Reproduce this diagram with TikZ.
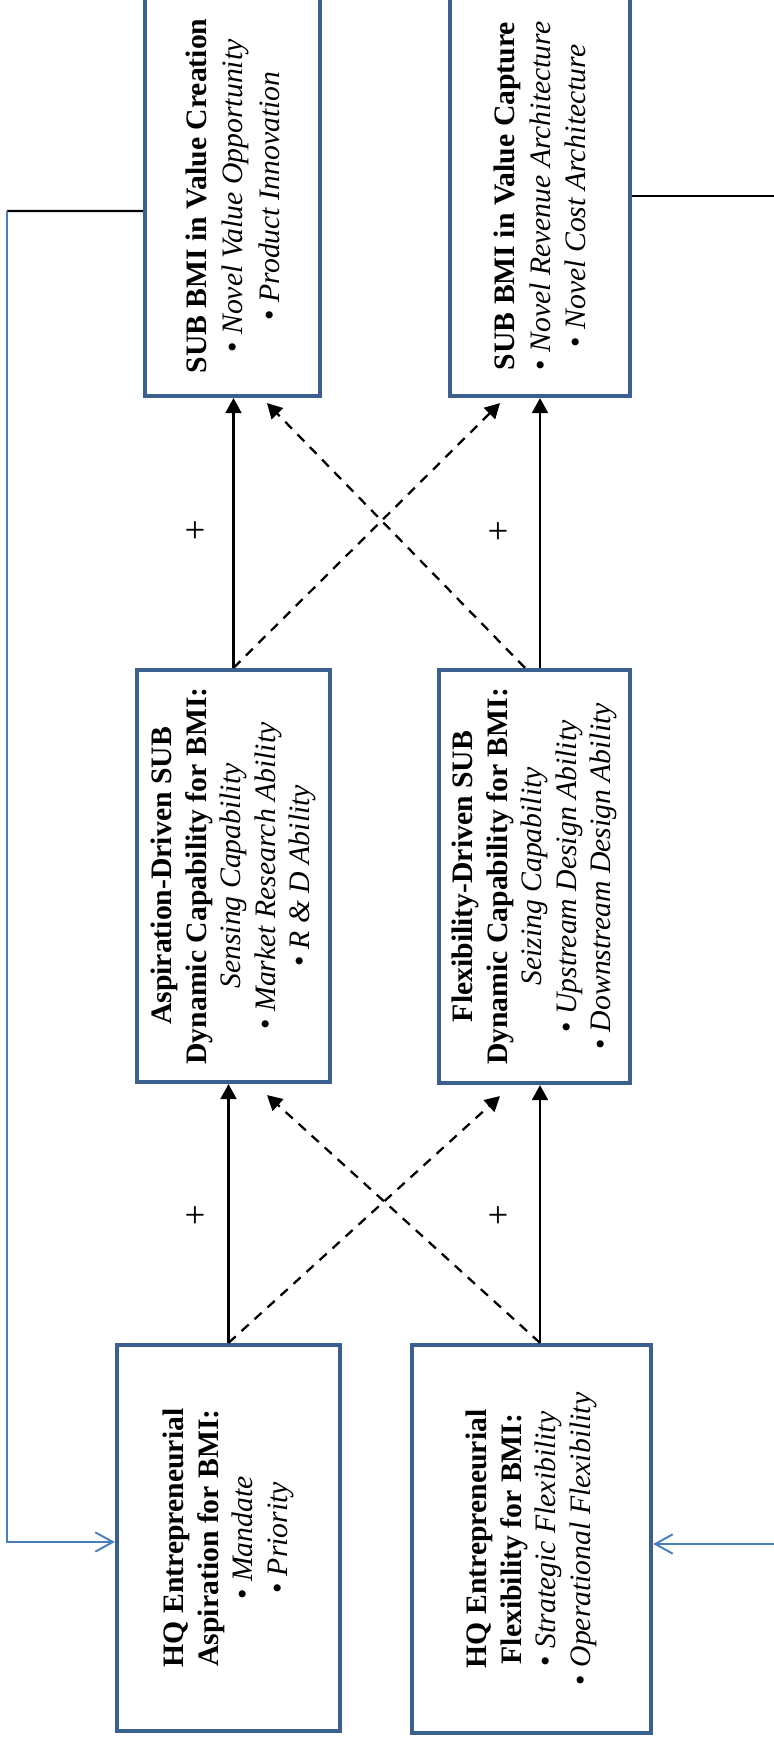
\documentclass[tikz,border=0pt]{standalone}
\usepackage{fontspec}
\setmainfont{Liberation Serif}
\usetikzlibrary{arrows.meta,calc}
\definecolor{boxblue}{RGB}{59,95,143}
\definecolor{loopblue}{RGB}{74,126,187}

\begin{document}
\begin{tikzpicture}[
  box/.style={draw=boxblue, line width=2.4pt, fill=white, inner sep=0pt},
  boxtext/.style={rotate=90, align=center, font=\fontsize{16.9}{19.6}\selectfont},
  plus/.style={font=\fontsize{21}{24}\selectfont},
  link/.style={line width=1.3pt, -{Triangle[length=8.5pt,width=9pt]}},
  maybe/.style={link, dash pattern=on 5.5pt off 4.5pt},
  loopline/.style={draw=loopblue, line width=1.1pt, -{Straight Barb[length=10pt,width=11pt]}}
]
  \useasboundingbox (0,0) rectangle (15.48,34.88);

  %% SUB BMI (top row)
  \node[box, minimum width=3.5cm, minimum height=8cm] (vc) at (4.65,30.96) {};
  \node[boxtext, font=\fontsize{16.9}{20.8}\selectfont] (vctext) at (vc)
    {\textbf{SUB BMI in Value Creation}\\ \textbullet\ \textit{Novel Value Opportunity}\\ \textbullet\ \textit{Product Innovation}};

  \node[box, minimum width=3.6cm, minimum height=8cm] (vcap) at (10.8,30.96) {};
  \node[boxtext, font=\fontsize{16.9}{20.2}\selectfont] (vcaptext) at (vcap)
    {\textbf{SUB BMI in Value Capture}\\ \textbullet\ \textit{Novel Revenue Architecture}\\ \textbullet\ \textit{Novel Cost Architecture}};

  %% SUB dynamic capabilities (middle row)
  \node[box, minimum width=3.86cm, minimum height=8.24cm] (ad) at (4.67,17.36) {};
  \node[boxtext] (adtext) at (ad)
    {\textbf{Aspiration-Driven SUB}\\ \textbf{Dynamic Capability for BMI:}\\ \textit{Sensing Capability}\\ \textbullet\ \textit{Market Research Ability}\\ \textbullet\ \textit{R \& D Ability}};

  \node[box, minimum width=3.82cm, minimum height=8.26cm] (fd) at (10.69,17.35) {};
  \node[boxtext] (fdtext) at (fd)
    {\textbf{Flexibility-Driven SUB}\\ \textbf{Dynamic Capability for BMI:}\\ \textit{Seizing Capability}\\ \textbullet\ \textit{Upstream Design Ability}\\ \textbullet\ \textit{Downstream Design Ability}};

  %% HQ (bottom row)
  \node[box, minimum width=4.46cm, minimum height=7.72cm] (hqa) at (4.57,4.12) {};
  \node[boxtext] (hqatext) at (hqa)
    {\textbf{HQ Entrepreneurial}\\ \textbf{Aspiration for BMI:}\\ \textbullet\ \textit{Mandate}\\ \textbullet\ \textit{Priority}};

  \node[box, minimum width=4.78cm, minimum height=7.76cm] (hqf) at (10.63,4.10) {};
  \node[boxtext] (hqftext) at (hqf)
    {\textbf{HQ Entrepreneurial}\\ \textbf{Flexibility for BMI:}\\ \textbullet\ \textit{Strategic Flexibility}\\ \textbullet\ \textit{Operational Flexibility}};

  %% capabilities -> BMI
  \draw[link] (ad.north) -- (ad.north |- vc.south);
  \draw[link] (vcap.south |- fd.north) -- (vcap.south);
  \draw[maybe] (ad.north) -- ([xshift=-0.8cm,yshift=-0.1cm]vcap.south);
  \draw[maybe] ([xshift=-0.19cm]fd.north) -- ([xshift=0.69cm,yshift=-0.1cm]vc.south);
  \node[plus] (p1) at (3.9,24.24) {+};
  \node[plus] (p2) at (9.96,24.22) {+};

  %% HQ -> capabilities
  \draw[link] (hqa.north) -- (hqa.north |- ad.south);
  \draw[link] (vcap.south |- hqf.north) -- (vcap.south |- fd.south);
  \draw[maybe] (hqa.north) -- ([xshift=-0.69cm,yshift=-0.22cm]fd.south);
  \draw[maybe] (vcap.south |- hqf.north) -- ([xshift=0.67cm,yshift=-0.22cm]ad.south);
  \node[plus] (p3) at (3.9,10.54) {+};
  \node[plus] (p4) at (9.96,10.54) {+};

  %% feedback loops
  \coordinate (fbl) at (0.14,30.66);
  \draw[line width=1.2pt] ([yshift=-0.3cm]vc.west) -- (fbl);
  \draw[loopline] (fbl) |- ([yshift=-0.08cm]hqa.west);

  \coordinate (fbr) at (15.48,31.0);
  \coordinate (fbr2) at (15.48,4.0);
  \draw[line width=1.2pt] (vcap.east) -- (vcap.east -| fbr);
  \draw[loopline] (fbr2) -- (fbr2 -| hqf.east);
\end{tikzpicture}
\end{document}
